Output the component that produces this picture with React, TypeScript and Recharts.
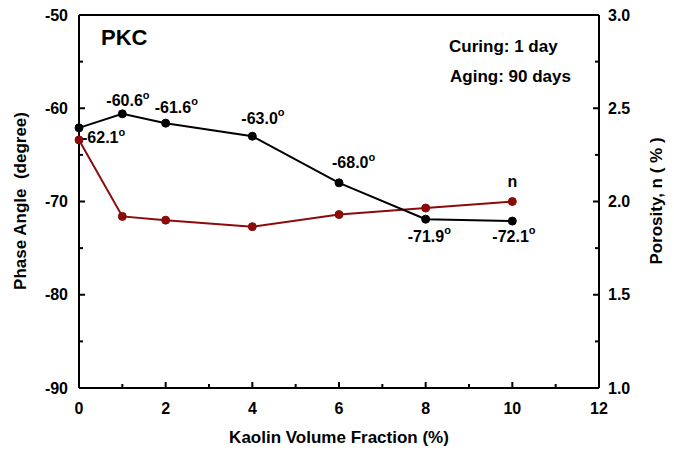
import React from 'react';
import { LineChart, Line, XAxis, YAxis, ReferenceLine, LabelList } from 'recharts';

const kaolin = [0, 1, 2, 4, 6, 8, 10];
const phaseAngle = [-62.1, -60.6, -61.6, -63.0, -68.0, -71.9, -72.1];
const porosity = [2.33, 1.92, 1.9, 1.865, 1.93, 1.965, 2.0];
const phaseLabels = ['-62.1', '-60.6', '-61.6', '-63.0', '-68.0', '-71.9', '-72.1'];
const xTicks = [0, 1, 2, 3, 4, 5, 6, 7, 8, 9, 10, 11, 12];
const leftTicks = [-90, -85, -80, -75, -70, -65, -60, -55, -50];
const rightTicks = [1.0, 1.25, 1.5, 1.75, 2.0, 2.25, 2.5, 2.75, 3.0];

const data = kaolin.map((k, i) => ({ k, phase: phaseAngle[i], n: porosity[i], lbl: phaseLabels[i] }));

const FONT = '"Liberation Sans", Arial, sans-serif';
const labelOffsets = [
  [3, 10], [-16, -13], [-11, -16], [-11, -18], [-7, -20], [-18, 17], [-20, 15],
];

const LeftTick = (props: any) => {
  const { x, y, payload } = props;
  const major = payload.value % 10 === 0;
  return (
    <g>
      <line x1={x} y1={y} x2={x + (major ? 6 : 4)} y2={y} stroke="#000" strokeWidth={2} />
      {major && (
        <text x={x - 11} y={y} textAnchor="end" dominantBaseline="central" fontFamily={FONT} fontWeight="bold" fontSize={16} fill="#000">
          {payload.value}
        </text>
      )}
    </g>
  );
};

const RightTick = (props: any) => {
  const { x, y, payload } = props;
  const major = Math.abs(payload.value * 2 - Math.round(payload.value * 2)) < 1e-6;
  return (
    <g>
      <line x1={x} y1={y} x2={x - (major ? 6 : 4)} y2={y} stroke="#000" strokeWidth={2} />
      {major && (
        <text x={x + 9} y={y} textAnchor="start" dominantBaseline="central" fontFamily={FONT} fontWeight="bold" fontSize={16} fill="#000">
          {payload.value.toFixed(1)}
        </text>
      )}
    </g>
  );
};

const BottomTick = (props: any) => {
  const { x, y, payload } = props;
  const major = payload.value % 2 === 0;
  return (
    <g>
      <line x1={x} y1={y} x2={x} y2={y - (major ? 6 : 4)} stroke="#000" strokeWidth={2} />
      {major && (
        <text x={x} y={y + 20} textAnchor="middle" dominantBaseline="central" fontFamily={FONT} fontWeight="bold" fontSize={16} fill="#000">
          {payload.value}
        </text>
      )}
    </g>
  );
};

const PhaseLabel = (props: any) => {
  const { x, y, index } = props;
  const [dx, dy] = labelOffsets[index];
  return (
    <text x={x + dx} y={y + dy} dominantBaseline="central" fontFamily={FONT} fontWeight="bold" fontSize={16} fill="#000">
      {phaseLabels[index]}
      <tspan dy={-6} fontSize={11}>o</tspan>
    </text>
  );
};

const NLabel = (props: any) => {
  const { x, y, index } = props;
  if (index !== kaolin.length - 1) return null;
  return (
    <text x={x} y={y - 20} textAnchor="middle" dominantBaseline="central" fontFamily={FONT} fontWeight="bold" fontSize={16} fill="#000">
      n
    </text>
  );
};

export default function App() {
  return (
    <div style={{ position: 'absolute', left: 0, top: 0, width: 674, height: 452 }}>
      <LineChart width={674} height={452} data={data} margin={{ top: 15, right: 0, bottom: 0, left: 0 }}>
        <XAxis
          dataKey="k"
          type="number"
          domain={[0, 12]}
          ticks={xTicks}
          interval={0}
          height={64}
          tickSize={0}
          tickMargin={0}
          tickLine={false}
          axisLine={{ stroke: '#000', strokeWidth: 2 }}
          tick={BottomTick}
        />
        <YAxis
          yAxisId="left"
          orientation="left"
          domain={[-90, -50]}
          ticks={leftTicks}
          interval={0}
          width={79}
          tickSize={0}
          tickMargin={0}
          tickLine={false}
          axisLine={{ stroke: '#000', strokeWidth: 2 }}
          tick={LeftTick}
        />
        <YAxis
          yAxisId="right"
          orientation="right"
          domain={[1, 3]}
          ticks={rightTicks}
          interval={0}
          width={75}
          tickSize={0}
          tickMargin={0}
          tickLine={false}
          axisLine={{ stroke: '#000', strokeWidth: 2 }}
          tick={RightTick}
        />
        <ReferenceLine yAxisId="left" y={-50} stroke="#000" strokeWidth={2} />
        <Line
          yAxisId="right"
          dataKey="n"
          stroke="#8b0a0a"
          strokeWidth={2}
          dot={{ r: 4, fill: '#8b0a0a', stroke: '#8b0a0a', strokeWidth: 1 }}
          isAnimationActive={false}
        >
          <LabelList dataKey="n" content={NLabel} />
        </Line>
        <Line
          yAxisId="left"
          dataKey="phase"
          stroke="#000"
          strokeWidth={2}
          dot={{ r: 4, fill: '#000', stroke: '#000', strokeWidth: 1 }}
          isAnimationActive={false}
        >
          <LabelList dataKey="phase" content={PhaseLabel} />
        </Line>
      </LineChart>
      <svg width={674} height={452} style={{ position: 'absolute', left: 0, top: 0, pointerEvents: 'none' }}>
        <g fontFamily={FONT} fontWeight="bold" fill="#000">
          <text x={101} y={37} fontSize={22} dominantBaseline="central">PKC</text>
          <text x={449} y={46} fontSize={17} dominantBaseline="central">Curing: 1 day</text>
          <text x={450} y={76} fontSize={17} dominantBaseline="central">Aging: 90 days</text>
          <text x={339} y={437} fontSize={17} textAnchor="middle" dominantBaseline="central">Kaolin Volume Fraction (%)</text>
          <text x={20} y={201} fontSize={17} textAnchor="middle" dominantBaseline="central" transform="rotate(-90 20 201)" xmlSpace="preserve">Phase Angle  (degree)</text>
          <text x={656} y={201} fontSize={17} textAnchor="middle" dominantBaseline="central" transform="rotate(-90 656 201)" xmlSpace="preserve">Porosity, n ( % )</text>
        </g>
      </svg>
    </div>
  );
}
